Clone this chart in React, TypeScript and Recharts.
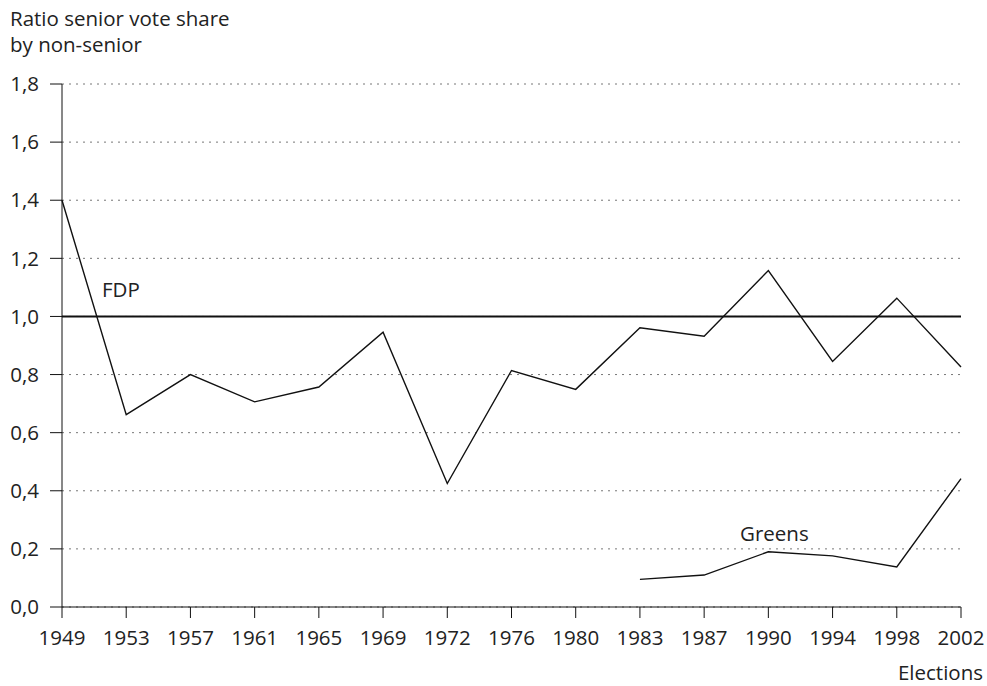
import { LineChart, Line, XAxis, YAxis, CartesianGrid, ReferenceLine } from "recharts";

const years = ["1949", "1953", "1957", "1961", "1965", "1969", "1972", "1976", "1980", "1983", "1987", "1990", "1994", "1998", "2002"];
const fdp = [1.4, 0.662, 0.8, 0.706, 0.757, 0.946, 0.425, 0.814, 0.749, 0.961, 0.932, 1.158, 0.845, 1.063, 0.826];
const greens = [null, null, null, null, null, null, null, null, null, 0.095, 0.11, 0.19, 0.176, 0.138, 0.442];
const yTicks = [0, 0.2, 0.4, 0.6, 0.8, 1.0, 1.2, 1.4, 1.6, 1.8];

const data = years.map((y, i) => ({ year: y, fdp: fdp[i], greens: greens[i] }));

const FONT = "'Open Sans', 'Noto Sans', sans-serif";
const TXT = "#222";
const FS = 20.5;

const fmt = (v: number) => v.toFixed(1).replace(".", ",");

export default function App() {
  const textStyle = { position: "absolute" as const, fontFamily: FONT, fontSize: FS, color: TXT, whiteSpace: "nowrap" as const, lineHeight: "22px" };
  return (
    <div style={{ position: "absolute", left: 0, top: 0, width: 987, height: 686, background: "#fff" }}>
      <LineChart width={987} height={686} data={data} margin={{ top: 84, right: 26, bottom: 39, left: 0 }}>
        <CartesianGrid vertical={false} stroke="#777" strokeDasharray="2 5" />
        <XAxis
          dataKey="year"
          height={40}
          tickSize={11}
          tickMargin={12}
          stroke="#111"
          tick={{ fill: TXT, fontSize: FS, fontFamily: FONT }}
          interval={0}
        />
        <YAxis
          width={62}
          domain={[0, 1.8]}
          ticks={yTicks}
          tickFormatter={fmt}
          tickSize={12}
          tickMargin={11}
          stroke="#111"
          tick={{ fill: TXT, fontSize: FS, fontFamily: FONT }}
          interval={0}
        />
        <ReferenceLine y={1} stroke="#111" strokeWidth={2} />
        <Line dataKey="fdp" stroke="#111" strokeWidth={1.4} dot={false} isAnimationActive={false} type="linear" />
        <Line dataKey="greens" stroke="#111" strokeWidth={1.4} dot={false} isAnimationActive={false} type="linear" />
      </LineChart>
      <div style={{ ...textStyle, left: 10, top: 7 }}>Ratio senior vote share</div>
      <div style={{ ...textStyle, left: 10, top: 33 }}>by non-senior</div>
      <div style={{ ...textStyle, left: 102, top: 278 }}>FDP</div>
      <div style={{ ...textStyle, left: 740, top: 522 }}>Greens</div>
      <div style={{ ...textStyle, right: 4, top: 661 }}>Elections</div>
    </div>
  );
}
